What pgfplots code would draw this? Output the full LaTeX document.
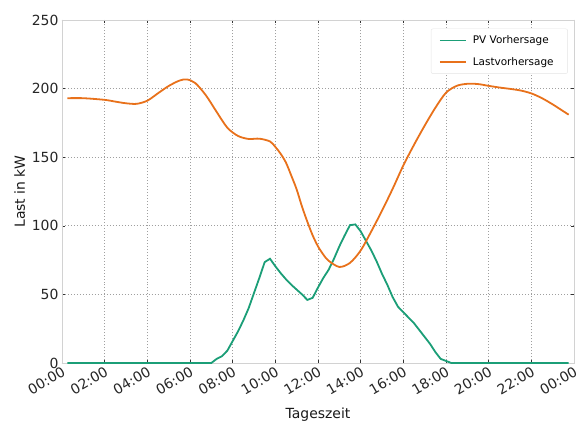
\documentclass[border=0pt]{standalone}
\usepackage{fontspec}
\setmainfont{DejaVu Sans}
\usepackage{pgfplots}
\pgfplotsset{compat=1.18}
\definecolor{pvgreen}{HTML}{1B9E77}
\definecolor{loadorange}{HTML}{E8711B}
\begin{document}
\begin{tikzpicture}
\begin{axis}[
  scale only axis, width=512bp, height=343bp,
  xmin=0, xmax=24, ymin=0, ymax=250,
  xtick={0,2,...,24},
  xticklabels={00:00,02:00,04:00,06:00,08:00,10:00,12:00,14:00,16:00,18:00,20:00,22:00,00:00},
  ytick={0,50,...,250},
  /pgf/number format/assume math mode=true,
  tick label style={font=\fontsize{14}{16}\selectfont, color=black!85},
  xticklabel style={rotate=30, anchor=north east, inner sep=2pt},
  label style={font=\fontsize{14}{16}\selectfont, color=black!90},
  xlabel={Tageszeit}, ylabel={Last in kW},
  xlabel style={yshift=-6bp},
  grid=major,
  major grid style={dash pattern=on 0.8pt off 2.2pt, gray!75, line width=0.7pt},
  axis line style={gray!35, line width=0.8pt},
  tick style={black!80, line width=0.6pt},
  major tick length=3bp,
  tick align=inside,
  legend style={at={(0.988,0.975)}, anchor=north east, draw=gray!20, rounded corners=2pt, fill=white,
    font=\fontsize{10.5}{12}\selectfont, row sep=8bp, inner xsep=8bp, inner ysep=5bp,
    nodes={inner xsep=6bp}},
  legend cell align=left,
  legend image code/.code={\draw[#1, line width=1.8bp] (0bp,0bp) -- (26bp,0bp);},
]
\addplot[pvgreen, line width=1.8bp] coordinates {
(0.25,0) (1,0) (2,0) (3,0) (4,0) (5,0) (6,0) (7.0,0)
(7.25,3) (7.5,5) (7.75,9) (8.0,16) (8.25,23) (8.5,31) (8.75,40) (9.0,51) (9.25,62) (9.5,73.5) (9.75,76)
(10.0,70.5) (10.25,65.5) (10.5,61) (10.75,57) (11.0,53.5) (11.25,50) (11.5,46) (11.75,47.5)
(12.0,55) (12.25,62) (12.5,68) (12.75,76) (13.0,85) (13.25,93) (13.5,100.5) (13.75,101)
(14.0,96) (14.25,89) (14.5,82) (14.75,74) (15.0,65) (15.25,57) (15.5,48) (15.75,41) (16.0,37)
(16.5,29) (17.0,19) (17.25,14) (17.5,8) (17.75,3) (18.0,1.5) (18.25,0)
(19,0) (20,0) (21,0) (22,0) (23,0) (23.75,0)
};
\addlegendentry{PV Vorhersage}
\addplot[loadorange, line width=1.8bp, smooth, tension=0.5] coordinates {
(0.25,193) (1,193) (2,191.8) (2.5,190.5) (3,189.3) (3.5,188.9) (4,191.2) (4.5,196.6) (5,201.9) (5.5,205.8) (5.85,206.7)
(6.25,204) (6.75,195) (7.25,183) (7.75,171.5) (8.25,165.5) (8.75,163.3) (9.25,163.5) (9.75,161.5)
(10.0,157.5) (10.25,152.5) (10.5,146) (10.75,136.5) (11.0,126.5) (11.25,114) (11.5,103) (11.75,93) (12.0,85) (12.25,79) (12.5,74.5)
(13.0,70) (13.5,73) (14.0,82) (14.5,96) (15.0,111) (15.5,127) (16.0,144) (16.5,159) (17.0,173) (17.5,186) (18.0,197)
(18.5,202) (19.0,203.5) (19.5,203.3) (20.0,202) (20.5,200.8) (21.0,199.8) (21.5,198.6) (22.0,196.5) (22.5,193) (23.0,188.5) (23.5,183.5) (23.75,181)
};
\addlegendentry{Lastvorhersage}
\end{axis}
\pgfresetboundingbox
\path ([xshift=-62bp,yshift=-78bp]current axis.south west) rectangle ([xshift=10bp,yshift=20bp]current axis.north east);
\end{tikzpicture}
\end{document}
